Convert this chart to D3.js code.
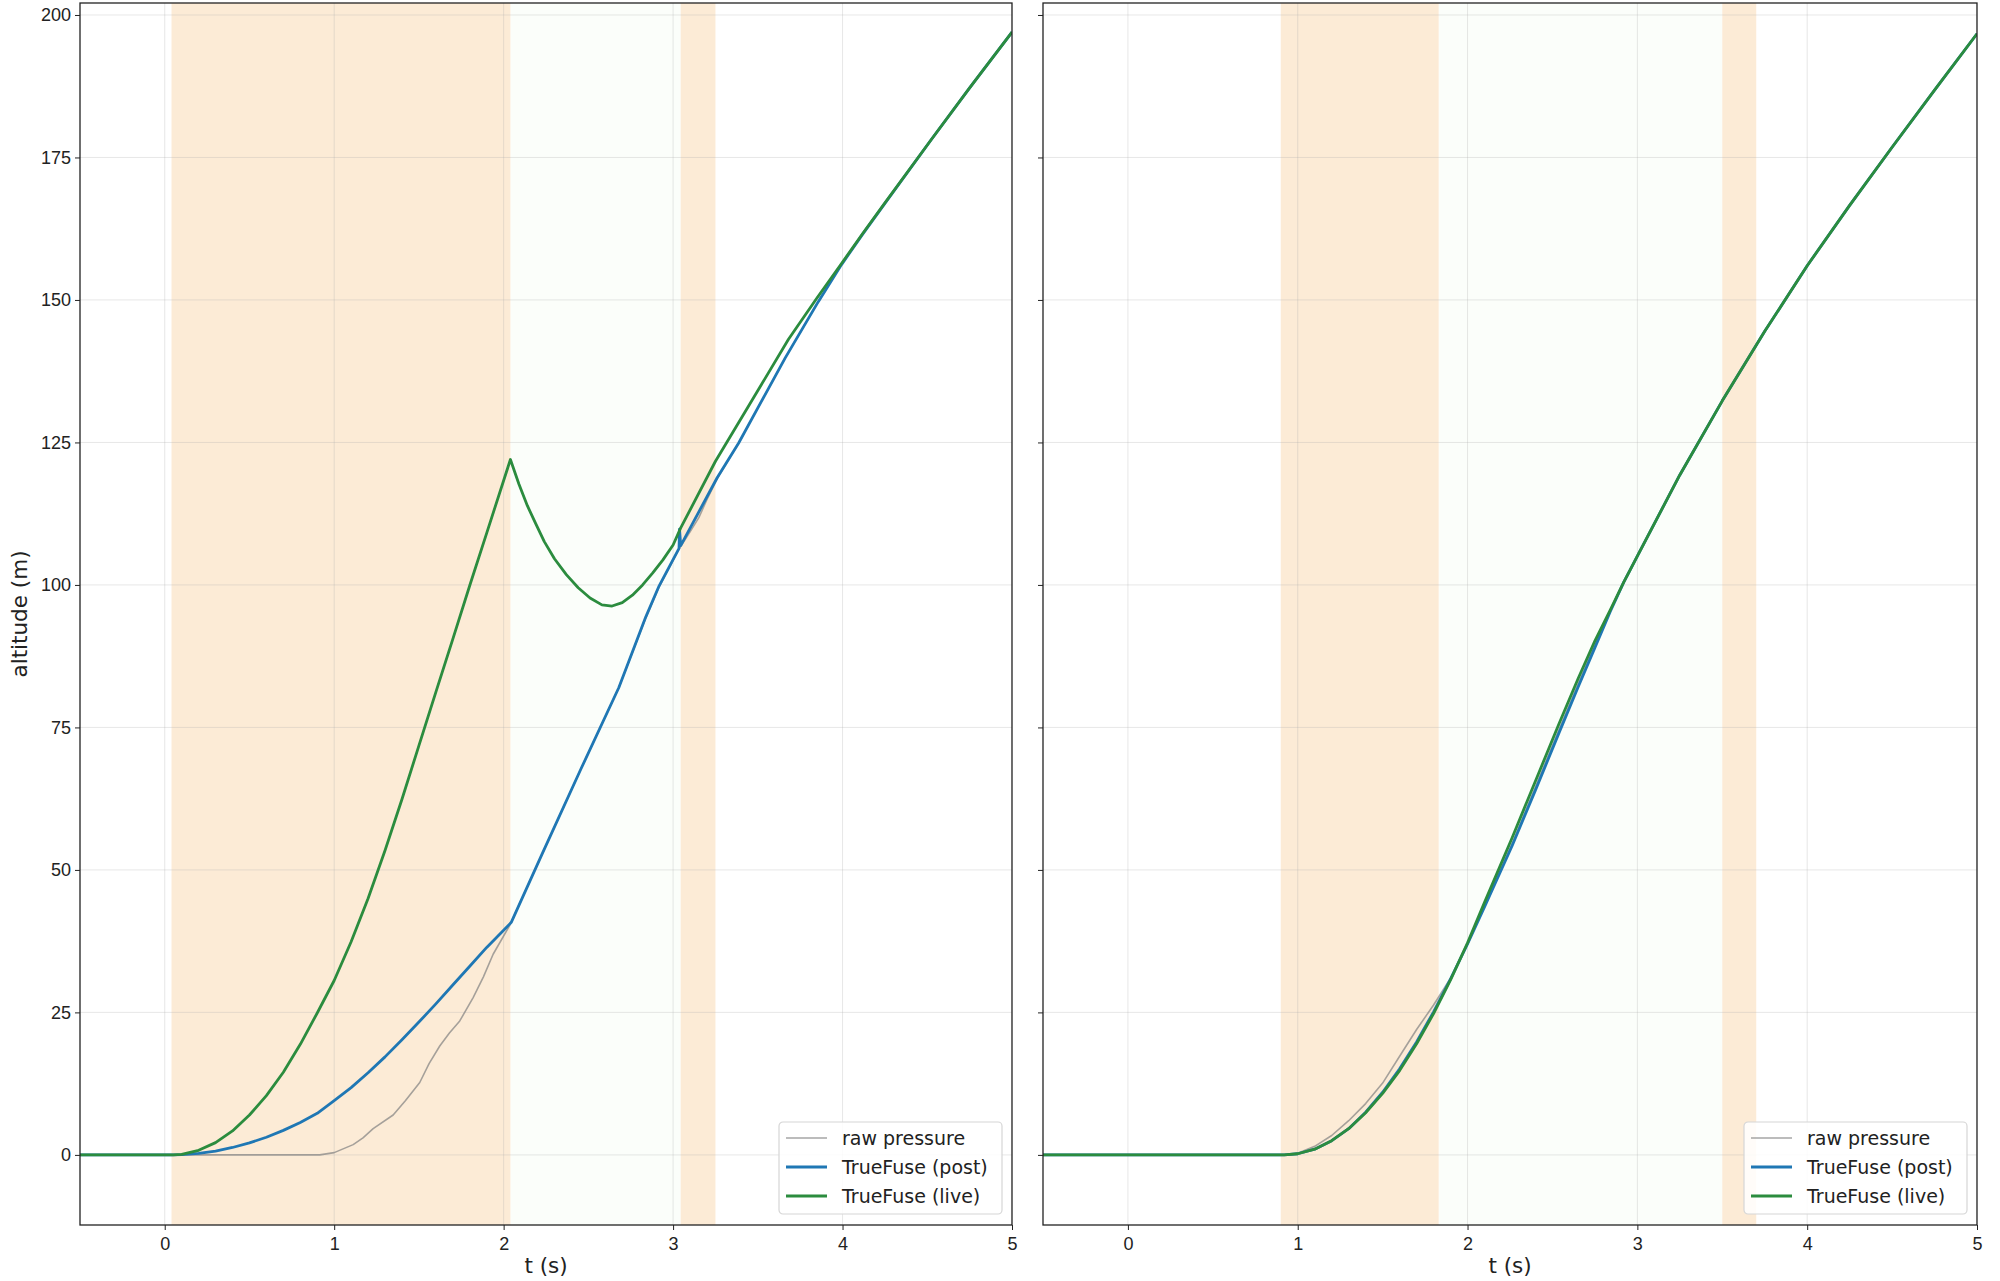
<!DOCTYPE html>
<html>
  <head>
    <meta charset="utf-8">
    <title>TrueFuse altitude</title>
    <script src="https://d3js.org/d3.v7.min.js"></script>
    <style>
      body { margin: 0; background: #fff; }
      svg { display: block; font-family: "DejaVu Sans", sans-serif; }
      .tick text { font-size: 18px; fill: #222; }
      .tick line { stroke: #222; }
      .domain { display: none; }
    </style>
  </head>
  <body>
    <svg id="chart" width="2000" height="1281"></svg>
    <script>
      // ticks and legend
      const xTicks = [0, 1, 2, 3, 4, 5];
      const yTicks = [0, 25, 50, 75, 100, 125, 150, 175, 200];
      const seriesNames = ["raw pressure", "TrueFuse (post)", "TrueFuse (live)"];

      // left panel: [t, altitude]
      const leftRaw = [[-0.5, 0], [0.915, 0], [1.0, 0.4], [1.112, 1.8], [1.17, 3.0], [1.23, 4.6], [1.348, 7.0],
        [1.42, 9.5], [1.505, 12.7], [1.56, 16], [1.623, 19.1], [1.68, 21.4], [1.741, 23.5], [1.82, 27.6],
        [1.88, 31.2], [1.938, 35.2], [2.04, 40.5], [2.23, 53], [2.456, 67.7], [2.68, 82], [2.839, 94.2],
        [2.917, 99.6], [3.035, 106.3], [3.1, 109.3], [3.152, 111.8], [3.2, 115], [3.26, 118.6],
        [3.387, 124.9], [3.661, 139.8], [3.857, 149.7], [3.994, 156.2], [4.12, 161.6], [4.249, 166.9],
        [4.523, 178.1], [4.75, 187.2], [5.0, 197]];
      const leftPost = [[-0.5, 0], [0.05, 0], [0.1, 0.03], [0.2, 0.25], [0.3, 0.65], [0.4, 1.3], [0.5, 2.1],
        [0.6, 3.1], [0.7, 4.3], [0.8, 5.7], [0.9, 7.3], [1.0, 9.5], [1.1, 11.8], [1.2, 14.4], [1.3, 17.2],
        [1.4, 20.2], [1.5, 23.3], [1.6, 26.5], [1.7, 29.8], [1.8, 33.1], [1.9, 36.4], [2.045, 40.8],
        [2.23, 53], [2.456, 67.7], [2.68, 82], [2.839, 94.4], [2.917, 99.8], [3.035, 106.4],
        [3.038, 109.8], [3.045, 106.9], [3.26, 118.8], [3.387, 124.9], [3.661, 139.8], [3.857, 149.7],
        [3.994, 156.2], [4.12, 161.6], [4.249, 166.9], [4.523, 178.1], [4.75, 187.2], [5.0, 197]];
      const leftLive = [[-0.5, 0], [0.05, 0], [0.1, 0.09], [0.2, 0.8], [0.3, 2.15], [0.4, 4.2], [0.5, 7.0],
        [0.6, 10.4], [0.7, 14.5], [0.8, 19.4], [0.9, 24.9], [1.0, 30.6], [1.1, 37.4], [1.2, 45], [1.3, 53.4],
        [1.4, 62.4], [1.5, 71.8], [1.6, 81.2], [1.7, 90.5], [1.8, 99.9], [1.9, 109.1], [2.04, 122],
        [2.09, 117.7], [2.14, 113.9], [2.19, 110.7], [2.24, 107.6], [2.3, 104.6], [2.37, 101.8],
        [2.44, 99.5], [2.51, 97.7], [2.58, 96.5], [2.64, 96.3], [2.7, 96.9], [2.76, 98.2], [2.82, 100],
        [2.88, 102.1], [2.94, 104.4], [3.0, 107], [3.045, 110], [3.25, 121.7], [3.45, 131.6],
        [3.681, 143.1], [3.85, 150.4], [3.994, 156.4], [4.12, 161.7], [4.249, 167], [4.523, 178.1],
        [4.75, 187.2], [5.0, 197]];

      // right panel: [t, altitude]
      const rightRaw = [[-0.5, 0], [0.95, 0], [1.0, 0.3], [1.1, 1.5], [1.2, 3.4], [1.3, 6], [1.4, 9],
        [1.5, 12.6], [1.6, 17.3], [1.7, 22], [1.8, 26.3], [1.9, 31], [2.0, 37], [2.1, 43.8], [2.262, 54.6],
        [2.4, 64.6], [2.538, 74.6], [2.65, 82.6], [2.75, 89.6], [2.84, 95.5], [2.92, 100.5], [3.006, 105.4],
        [3.25, 119.3], [3.5, 132.3], [3.75, 144.5], [4.0, 156], [4.25, 166.6], [4.5, 176.8],
        [4.75, 186.8], [5.0, 196.7]];
      const rightPost = [[-0.5, 0], [0.92, 0], [1.0, 0.2], [1.1, 1.0], [1.2, 2.5], [1.3, 4.6], [1.4, 7.5],
        [1.5, 11], [1.6, 15.1], [1.7, 19.8], [1.8, 25.1], [1.9, 30.9], [2.0, 37], [2.1, 43.5],
        [2.262, 54.2], [2.4, 64], [2.538, 74], [2.65, 82], [2.75, 89], [2.84, 95.3], [2.92, 100.5],
        [3.006, 105.4], [3.25, 119.3], [3.5, 132.3], [3.75, 144.5], [4.0, 156], [4.25, 166.6],
        [4.5, 176.8], [4.75, 186.8], [5.0, 196.7]];
      const rightLive = [[-0.5, 0], [0.92, 0], [1.0, 0.2], [1.1, 1.0], [1.2, 2.5], [1.3, 4.6], [1.4, 7.4],
        [1.5, 10.8], [1.6, 14.8], [1.7, 19.5], [1.8, 24.8], [1.9, 30.7], [2.0, 37.2], [2.1, 44.3],
        [2.262, 55.6], [2.4, 65.6], [2.538, 75.6], [2.65, 83.5], [2.75, 90.2], [2.84, 95.6], [2.92, 100.5],
        [3.006, 105.4], [3.25, 119.3], [3.5, 132.3], [3.75, 144.5], [4.0, 156], [4.25, 166.6],
        [4.5, 176.8], [4.75, 186.8], [5.0, 196.7]];

      // shaded phases: [start, end]
      const leftBoost = [[0.04, 2.04], [3.045, 3.25]];
      const leftCoast = [[2.04, 3.045]];
      const rightBoost = [[0.9, 1.83], [3.5, 3.7]];
      const rightCoast = [[1.83, 3.5]];

      const xDomain = [-0.5, 5];
      const yDomain = [-12.3, 202.1];
      const colours = ["#808080", "#1f77b4", "#2b8c3e"];
      const widths = [1.6, 2.8, 2.8];

      svg = d3.select("#chart");

      drawPanel({ id: "left", left: 80, right: 1012, top: 3, bottom: 1225,
        series: [leftRaw, leftPost, leftLive], boost: leftBoost, coast: leftCoast, yLabels: true });
      drawPanel({ id: "right", left: 1043, right: 1977, top: 3, bottom: 1225,
        series: [rightRaw, rightPost, rightLive], boost: rightBoost, coast: rightCoast, yLabels: false });

      // y label
      svg.append("text")
        .attr("transform", "translate(19,614) rotate(-90)")
        .attr("text-anchor", "middle")
        .attr("dominant-baseline", "central")
        .style("font-size", "21.5px")
        .style("fill", "#222")
        .text("altitude (m)");

      function drawPanel(p) {
        let x = d3.scaleLinear().domain(xDomain).range([p.left, p.right]);
        let y = d3.scaleLinear().domain(yDomain).range([p.bottom, p.top]);
        let g = svg.append("g").attr("id", p.id);
        g.append("clipPath")
          .attr("id", "clip-" + p.id)
          .append("rect")
            .attr("x", p.left).attr("y", p.top)
            .attr("width", p.right - p.left).attr("height", p.bottom - p.top);
        let plot = g.append("g").attr("clip-path", "url(#clip-" + p.id + ")");
        // phase bands
        plot.selectAll(".coast")
          .data(p.coast)
          .enter().append("rect")
            .attr("x", function(d) { return x(d[0]); })
            .attr("width", function(d) { return x(d[1]) - x(d[0]); })
            .attr("y", p.top).attr("height", p.bottom - p.top)
            .style("fill", "#fbfefa");
        plot.selectAll(".boost")
          .data(p.boost)
          .enter().append("rect")
            .attr("x", function(d) { return x(d[0]); })
            .attr("width", function(d) { return x(d[1]) - x(d[0]); })
            .attr("y", p.top).attr("height", p.bottom - p.top)
            .style("fill", "#fcebd6");
        // grid
        plot.selectAll(".vgrid")
          .data(xTicks)
          .enter().append("line")
            .attr("x1", x).attr("x2", x)
            .attr("y1", p.top).attr("y2", p.bottom)
            .style("stroke", "#b0b0b0").style("stroke-opacity", 0.3).style("stroke-width", 1);
        plot.selectAll(".hgrid")
          .data(yTicks)
          .enter().append("line")
            .attr("y1", y).attr("y2", y)
            .attr("x1", p.left).attr("x2", p.right)
            .style("stroke", "#b0b0b0").style("stroke-opacity", 0.3).style("stroke-width", 1);
        // series
        let line = d3.line()
          .x(function(d) { return x(d[0]); })
          .y(function(d) { return y(d[1]); });
        plot.selectAll(".series")
          .data(p.series)
          .enter().append("path")
            .attr("d", line)
            .style("fill", "none")
            .style("stroke", function(d, i) { return colours[i]; })
            .style("stroke-opacity", function(d, i) { return i == 0 ? 0.7 : 1; })
            .style("stroke-width", function(d, i) { return widths[i]; })
            .style("stroke-linejoin", "round");
        // frame
        g.append("rect")
          .attr("x", p.left).attr("y", p.top)
          .attr("width", p.right - p.left).attr("height", p.bottom - p.top)
          .style("fill", "none").style("stroke", "#222").style("stroke-width", 1.3);
        // axes
        g.append("g")
          .attr("transform", "translate(0," + p.bottom + ")")
          .call(d3.axisBottom(x).tickValues(xTicks).tickSize(5).tickPadding(7).tickFormat(d3.format("d")));
        g.append("g")
          .attr("transform", "translate(" + p.left + ",0)")
          .call(d3.axisLeft(y).tickValues(yTicks).tickSize(5).tickPadding(4)
            .tickFormat(p.yLabels ? d3.format("d") : ""));
        g.append("text")
          .attr("x", (p.left + p.right) / 2).attr("y", 1273)
          .attr("text-anchor", "middle")
          .style("font-size", "21.5px").style("fill", "#222")
          .text("t (s)");
        // legend
        let lg = g.append("g")
          .attr("transform", "translate(" + (p.right - 233) + "," + (p.bottom - 103) + ")");
        lg.append("rect")
          .attr("width", 223).attr("height", 92).attr("rx", 4)
          .style("fill", "#fff").style("fill-opacity", 0.85)
          .style("stroke", "#d6d6d6").style("stroke-width", 1.2);
        let items = lg.selectAll(".item")
          .data(seriesNames)
          .enter().append("g")
            .attr("transform", function(d, i) { return "translate(0," + (16 + i * 29) + ")"; });
        items.append("line")
          .attr("x1", 7).attr("x2", 48)
          .style("stroke", function(d, i) { return colours[i]; })
          .style("stroke-opacity", function(d, i) { return i == 0 ? 0.7 : 1; })
          .style("stroke-width", function(d, i) { return widths[i]; });
        items.append("text")
          .attr("x", 63)
          .attr("dy", "0.35em")
          .style("font-size", "19px").style("fill", "#222")
          .text(function(d) { return d; });
      }
    </script>
  </body>
</html>
